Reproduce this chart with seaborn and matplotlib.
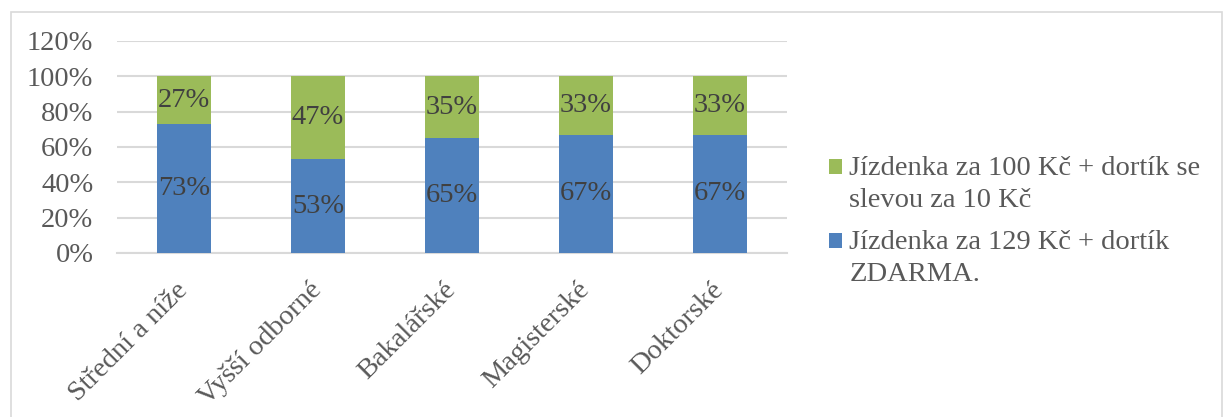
import matplotlib
matplotlib.use("Agg")
import matplotlib.pyplot as plt
import seaborn as sns
import pandas as pd
from matplotlib.patches import Rectangle, Patch
from matplotlib.legend_handler import HandlerPatch

categories = ["Střední a níže", "Vyšší odborné", "Bakalářské", "Magisterské", "Doktorské"]
blue_vals = [73, 53, 65, 67, 67]
green_vals = [27, 47, 35, 33, 33]
blue_name = "Jízdenka za 129 Kč + dortík\nZDARMA."
green_name = "Jízdenka za 100 Kč + dortík se\nslevou za 10 Kč"
yticks = [0, 20, 40, 60, 80, 100, 120]

BLUE = "#4F81BD"
GREEN = "#9BBB59"
TXT = "#595959"
LBL = "#404040"
GRID = "#D9D9D9"
FS = 20.5

sns.set_theme(style="white")
plt.rcParams["font.family"] = ["Liberation Serif", "DejaVu Serif"]

df = pd.DataFrame({"cat": categories, "blue": blue_vals, "green": green_vals})
df["total"] = df["blue"] + df["green"]

fig = plt.figure(figsize=(12.26, 4.17), dpi=100)
ax = fig.add_axes([117 / 1226, 1 - 253 / 417, (787 - 117) / 1226, (253 - 41) / 417])

sns.barplot(data=df, x="cat", y="total", color=GREEN, saturation=1, width=0.40,
            linewidth=0, ax=ax, zorder=3)
sns.barplot(data=df, x="cat", y="blue", color=BLUE, saturation=1, width=0.40,
            linewidth=0, ax=ax, zorder=3)

ax.set_xlim(-0.5, len(categories) - 0.5)
ax.set_ylim(0, 120)
ax.set_yticks(yticks)
ax.set_yticklabels([f"{v}%" for v in yticks], fontsize=FS, color=TXT)
ax.set_xlabel("")
ax.set_ylabel("")
ax.yaxis.grid(True, color=GRID, linewidth=1.5, zorder=0)
ax.set_axisbelow(True)
for s in ["top", "right", "left"]:
    ax.spines[s].set_visible(False)
ax.spines["bottom"].set_color(GRID)
ax.spines["bottom"].set_linewidth(1.5)
ax.tick_params(axis="y", length=0, pad=17)
ax.tick_params(axis="x", length=0, pad=24)
ax.set_xticks(range(len(categories)))
ax.set_xticklabels(categories, rotation=45, ha="right", va="center",
                   rotation_mode="anchor", fontsize=FS, color=TXT)

for i, (b, g) in enumerate(zip(blue_vals, green_vals)):
    ax.text(i, b / 2, f"{b}%", ha="center", va="center", fontsize=FS, color=LBL, zorder=4)
    ax.text(i, b + g / 2, f"{g}%", ha="center", va="center", fontsize=FS, color=LBL, zorder=4)


def top_square(legend, orig_handle, xdescent, ydescent, width, height, fontsize):
    return Rectangle((-xdescent, -ydescent + 12.5), width, height)


handles = [Patch(facecolor=GREEN, edgecolor="none"), Patch(facecolor=BLUE, edgecolor="none")]
leg = fig.legend(handles, [green_name, blue_name], loc="upper left",
                 bbox_to_anchor=(815 / 1226, 1 - 142 / 417), frameon=False,
                 fontsize=FS, labelcolor=TXT, handlelength=0.46, handleheight=0.46,
                 handletextpad=0.25, labelspacing=0.6, borderpad=0,
                 handler_map={Patch: HandlerPatch(patch_func=top_square)})
for t in leg.get_texts():
    t.set_linespacing(1.35)

fig.patches.append(Rectangle((11 / 1226, -5 / 417), (1222 - 11) / 1226, (405 + 5) / 417,
                             transform=fig.transFigure, fill=False,
                             edgecolor=GRID, linewidth=1.2))

fig.savefig("out.png", dpi=100)
